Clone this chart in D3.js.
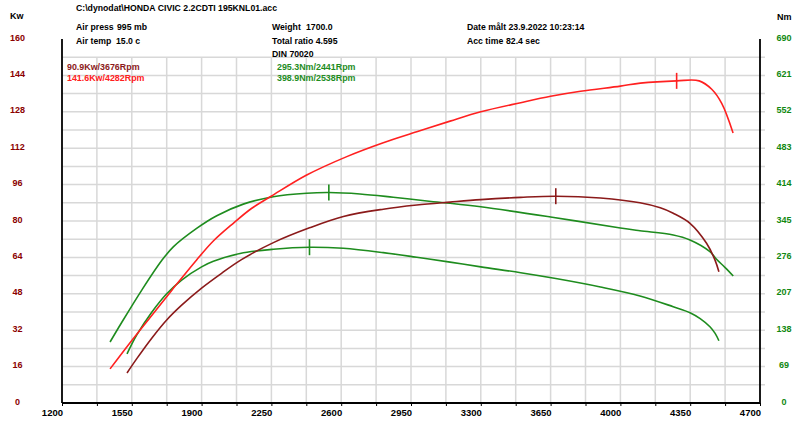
<!DOCTYPE html>
<html><head><meta charset="utf-8">
<script src="https://cdn.jsdelivr.net/npm/d3@7"></script>
<style>
html,body{margin:0;padding:0;background:#fff;}
svg{display:block;}
text{font-family:"Liberation Sans",Arial,sans-serif;font-weight:bold;}
</style></head>
<body><svg id="c" width="800" height="428"></svg>
<script>
// ---- data ----
const xTickLabels = [1200,1550,1900,2250,2600,2950,3300,3650,4000,4350,4700];
const kwTickLabels = [0,16,32,48,64,80,96,112,128,144,160];
const nmTickLabels = [0,69,138,207,276,345,414,483,552,621,690];

const powerLowRpm = [1526,1575,1650,1725,1800,1900,2000,2100,2260,2441,2611,2811,2979,3146,3300,3500,3676,3900,4098,4200,4265,4349,4432,4474,4494];
const powerLowKw  = [13.2,19.5,28.5,36.5,43,50.5,57,63,70.5,77,82,85.2,87,88.3,89.4,90.4,90.9,90.1,88,85.8,83.4,79,70.2,62.9,57.7];

const powerHighRpm = [1441,1550,1650,1750,1875,1960,2059,2150,2251,2427,2628,2811,2979,3146,3300,3500,3650,3800,4000,4100,4282,4395,4458,4508,4565];
const powerHighKw  = [15,27.5,38.5,49.5,62.9,71.3,79,85.5,91,100.2,108.3,114.4,119.2,123.9,128,132,134.8,137,139.3,140.6,141.6,141.6,137.9,131.7,118.7];

const torqueLowRpm = [1526,1575,1650,1725,1800,1900,1959,2093,2260,2441,2611,2811,2979,3146,3300,3500,3676,3900,4098,4265,4349,4400,4449,4475,4494];
const torqueLowNm  = [93,129,172,207,233,258,268.5,283.5,291.5,295.3,293.2,285,276.2,267,258,247,236,220,203,182.5,171.2,160,144.6,132,118];

const torqueHighRpm = [1441,1500,1600,1700,1758,1875,1976,2109,2259,2427,2538,2694,2861,3062,3146,3300,3650,4000,4098,4265,4349,4449,4482,4524,4566];
const torqueHighNm  = [115.6,153,214,270,296,331,355,377,391,397.6,398.9,396.2,390,381.6,378.6,372,352.6,331.7,326.6,318.5,309,286.8,272.4,257.2,240.7];

const peaks = [
  {rpm:3676, v:90.9, axis:"kw", color:"#8b1a1a"},
  {rpm:4282, v:141.6, axis:"kw", color:"#ff2020"},
  {rpm:2441, v:295.3, axis:"nm", color:"#1e8c1e"},
  {rpm:2538, v:398.9, axis:"nm", color:"#1e8c1e"}
];

// ---- drawing ----
const svg = d3.select("#c");
const x = d3.scaleLinear().domain([1200,4700]).range([62,760]);
const yKw = d3.scaleLinear().domain([0,160]).range([403,39]);
const yNm = d3.scaleLinear().domain([0,690]).range([403,39]);

// grid
const grid = svg.append("g");
d3.range(8,160,8).forEach(v=>{
  grid.append("line").attr("x1",62).attr("x2",765)
    .attr("y1",yKw(v)).attr("y2",yKw(v))
    .attr("stroke","#d8d8d8").attr("stroke-width",1.5);
});
d3.range(1375,4700,175).forEach(r=>{
  grid.append("line").attr("x1",x(r)).attr("x2",x(r))
    .attr("y1",yKw(152)).attr("y2",yKw(0))
    .attr("stroke","#d8d8d8").attr("stroke-width",1.5);
});

// axes
const xAxis = d3.axisBottom(x).tickValues(d3.range(1200,4701,175)).tickSize(3).tickFormat("");
const gx = svg.append("g").attr("transform","translate(0,403)").call(xAxis);
gx.select(".domain").attr("stroke","#000").attr("stroke-width",1.8).attr("d","M62,0H760");
gx.selectAll(".tick line").attr("stroke","#000").attr("stroke-width",1);
svg.append("g").selectAll("text").data(xTickLabels).join("text")
  .attr("x",d=>x(d)+1).attr("y",416).attr("text-anchor","end")
  .attr("font-size","9.5px").attr("fill","#000").text(d=>d);

svg.append("line").attr("x1",62).attr("x2",62).attr("y1",39).attr("y2",403).attr("stroke","#000").attr("stroke-width",1.8);
svg.append("line").attr("x1",760).attr("x2",760).attr("y1",39).attr("y2",403).attr("stroke","#000").attr("stroke-width",1.8);

svg.append("g").selectAll("text").data(kwTickLabels).join("text")
  .attr("x",17.5).attr("y",d=>yKw(d)+1.5).attr("text-anchor","middle")
  .attr("font-size","9px").attr("fill","#8b0000").text(d=>d);
svg.append("g").selectAll("text").data(nmTickLabels).join("text")
  .attr("x",784).attr("y",d=>yNm(d)+1.5).attr("text-anchor","middle")
  .attr("font-size","9px").attr("fill","#118811").text(d=>d);

svg.append("text").attr("x",10).attr("y",18.5).attr("font-size","9px").attr("fill","#000").text("Kw");
svg.append("text").attr("x",777).attr("y",19.5).attr("font-size","9px").attr("fill","#000").text("Nm");

// header
const hdr = [
  [76,11,"C:\\dynodat\\HONDA CIVIC 2.2CDTI 195KNL01.acc"],
  [76,30,"Air press"],[117,30,"995 mb"],
  [76,43.5,"Air temp"],[116,43.5,"15.0 c"],
  [272,30,"Weight"],[306,30,"1700.0"],
  [272,43.5,"Total ratio 4.595"],
  [272,56.5,"DIN 70020"],
  [467,30,"Date målt 23.9.2022 10:23:14"],
  [467,43.5,"Acc time"],[506,43.5,"82.4 sec"]
];
svg.append("g").selectAll("text").data(hdr).join("text")
  .attr("x",d=>d[0]).attr("y",d=>d[1]).attr("font-size","8.7px").attr("fill","#000").text(d=>d[2]);

// legend texts
const leg = [
  [67,70,"90.9Kw/3676Rpm","#8b1a1a"],
  [67,80.5,"141.6Kw/4282Rpm","#ff2020"],
  [277,70,"295.3Nm/2441Rpm","#1e8c1e"],
  [277,80.5,"398.9Nm/2538Rpm","#1e8c1e"]
];
svg.append("g").selectAll("text").data(leg).join("text")
  .attr("x",d=>d[0]).attr("y",d=>d[1]).attr("font-size","8.9px").attr("fill",d=>d[3]).text(d=>d[2]);

// curves
function drawCurve(rpms, vals, yS, color){
  const pts = rpms.map((r,i)=>[x(r), yS(vals[i])]);
  svg.append("path").attr("d", d3.line().curve(d3.curveCatmullRom.alpha(0.5))(pts))
    .attr("fill","none").attr("stroke",color).attr("stroke-width",1.6);
}
drawCurve(torqueHighRpm, torqueHighNm, yNm, "#1e8c1e");
drawCurve(torqueLowRpm, torqueLowNm, yNm, "#1e8c1e");
drawCurve(powerLowRpm, powerLowKw, yKw, "#8b1a1a");
drawCurve(powerHighRpm, powerHighKw, yKw, "#ff2020");

// peak markers
peaks.forEach(p=>{
  const yS = p.axis==="kw" ? yKw : yNm;
  svg.append("line").attr("x1",x(p.rpm)).attr("x2",x(p.rpm))
    .attr("y1",yS(p.v)-8).attr("y2",yS(p.v)+8)
    .attr("stroke",p.color).attr("stroke-width",1.6);
});
</script></body></html>
